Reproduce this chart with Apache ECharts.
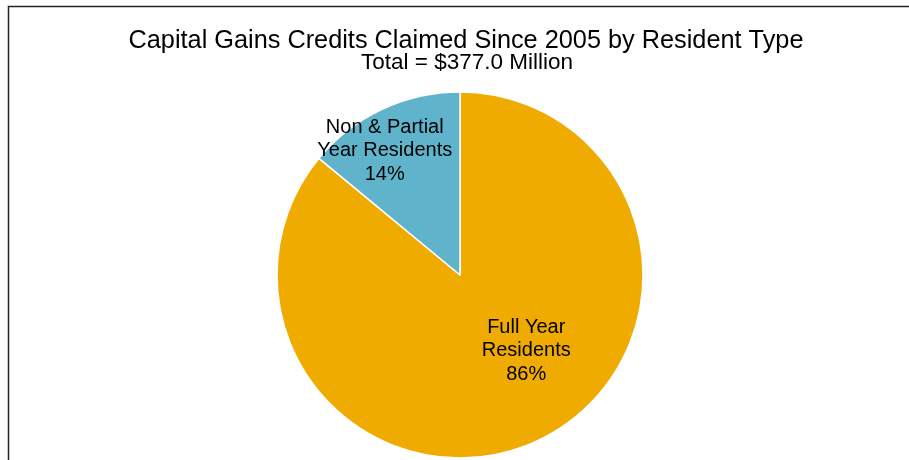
<!DOCTYPE html>
<html>
<head>
<meta charset="utf-8">
<script src="https://cdn.jsdelivr.net/npm/echarts@6/dist/echarts.min.js"></script>
<style>
html,body{margin:0;padding:0;background:#fff;}
#chart{width:909px;height:460px;}
</style>
</head>
<body>
<div id="chart"></div>
<script>
var titleText = "Capital Gains Credits Claimed Since 2005 by Resident Type";
var subtitleText = "Total = $377.0 Million";
var categories = ["Full Year\nResidents", "Non & Partial\nYear Residents"];
var values = [86, 14];
var colors = ["#F0AB00", "#5FB4CC"];
var labelOffsets = [[26, -10], [-35, -39]];

var chart = echarts.init(document.getElementById('chart'));
var data = categories.map(function (c, i) {
  return {
    name: c,
    value: values[i],
    itemStyle: { color: colors[i] },
    label: { offset: labelOffsets[i] }
  };
});
var FONT = 'Liberation Sans, Arial, sans-serif';
chart.setOption({
  animation: false,
  graphic: [{
    type: 'polyline',
    shape: { points: [[8.5, 470], [8.5, 6.5], [920, 6.5]] },
    style: { stroke: '#222', lineWidth: 1.5, fill: null },
    silent: true
  }, {
    type: 'text',
    x: 466, y: 41,
    style: { text: titleText, font: '25.3px ' + FONT, fill: '#000', align: 'center', verticalAlign: 'middle' },
    silent: true
  }, {
    type: 'text',
    x: 467, y: 63,
    style: { text: subtitleText, font: '22.5px ' + FONT, fill: '#000', align: 'center', verticalAlign: 'middle' },
    silent: true
  }],
  series: [{
    type: 'pie',
    center: [460, 275],
    radius: [0, 183],
    startAngle: 90,
    clockwise: true,
    data: data,
    itemStyle: { borderColor: '#fff', borderWidth: 1.5 },
    label: {
      show: true,
      position: 'inside',
      fontFamily: FONT,
      fontSize: 20,
      lineHeight: 23.5,
      color: '#000',
      align: 'center',
      formatter: function (p) { return p.name + '\n' + Math.round(p.percent) + '%'; }
    },
    labelLine: { show: false }
  }]
});
</script>
</body>
</html>
